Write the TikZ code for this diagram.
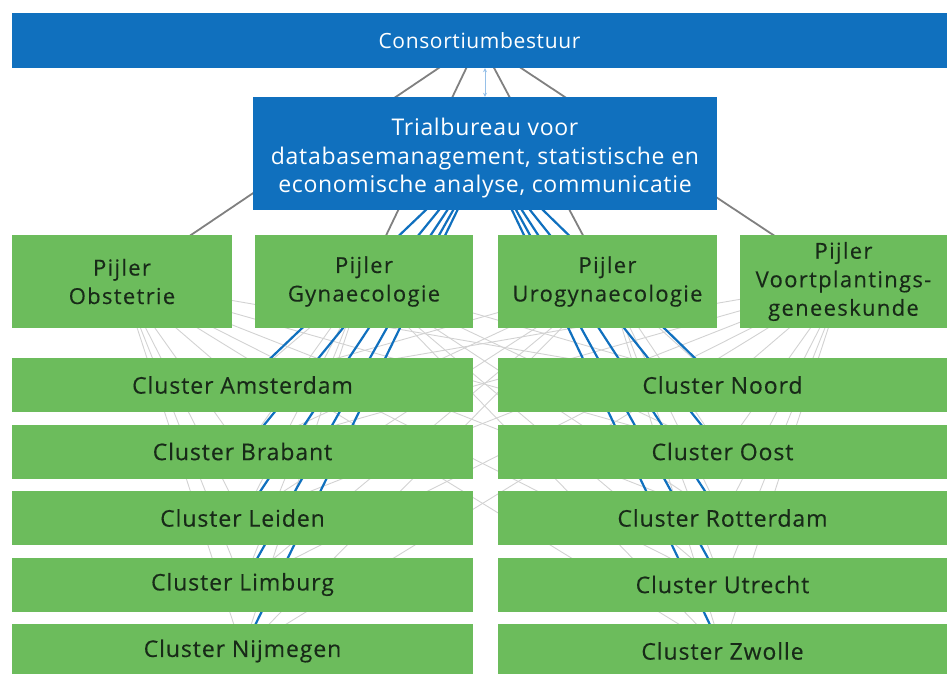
\documentclass[tikz,border=0pt]{standalone}
\usepackage{fontspec}
\setmainfont{Open Sans}
\usetikzlibrary{arrows.meta}
\definecolor{cblue}{RGB}{16,112,190}
\definecolor{cgreen}{RGB}{108,188,92}
\definecolor{ctext}{RGB}{24,42,24}
\definecolor{linkgray}{RGB}{128,128,128}
\definecolor{faintgray}{RGB}{210,210,210}
\definecolor{paleblue}{RGB}{150,192,232}
\pgfdeclarelayer{bg}
\pgfsetlayers{bg,main}
\newcommand{\boxfont}[3]{\fontsize{#1}{#2}\selectfont\addfontfeatures{LetterSpace=#3}}
\begin{document}
\begin{tikzpicture}[x=1pt,y=-1pt,
  bluebox/.style={fill=cblue, text=white, inner sep=0pt, align=center},
  pillar/.style={fill=cgreen, text=ctext, inner sep=0pt, align=center,
    minimum height=93pt, font=\boxfont{22}{28.5}{6}\addfontfeatures{FakeBold=0.3}},
  cluster/.style={fill=cgreen, text=ctext, inner sep=0pt, align=center,
    minimum height=54pt, font=\boxfont{23}{26}{4}\addfontfeatures{FakeBold=0.3}},
  leftcl/.style={cluster, minimum width=461pt},
  rightcl/.style={cluster, minimum width=449pt},
  govlink/.style={draw=linkgray, line width=1.8pt},
  datalink/.style={draw=cblue, line width=2.2pt},
  pillarlink/.style={draw=faintgray, line width=0.9pt},
  ]
\useasboundingbox (0,0) rectangle (947,673);

% governance and trial office
\node[bluebox, minimum width=935pt, minimum height=55pt,
  font=\boxfont{21}{24}{3}] (cons) at (479.5,40.5) {Consortiumbestuur};
\node[bluebox, minimum width=464pt, minimum height=113pt] (trial) at (485,153.5) {};
\node[text=white, inner sep=0pt, align=center, font=\boxfont{23}{28.5}{3}]
  (trialtext) at ([yshift=-5pt]trial.center)
  {Trialbureau voor\\databasemanagement, statistische en\\economische analyse, communicatie};

% pillars
\node[pillar, minimum width=220pt] (obs) at (122,281.5) {Pijler\\Obstetrie};
\node[pillar, minimum width=218pt] (gyn) at (364,281.5) {Pijler\\Gynaecologie};
\node[pillar, minimum width=219pt] (uro) at (607.5,281.5) {Pijler\\Urogynaecologie};
\node[pillar, minimum width=207pt] (voo) at (843.5,281.5) {Pijler\\Voortplantings-\\geneeskunde};

% clusters
\node[leftcl] (ams) at (242.5,385) {Cluster Amsterdam};
\node[leftcl] (bra) at (242.5,451.5) {Cluster Brabant};
\node[leftcl] (lei) at (242.5,518) {Cluster Leiden};
\node[leftcl] (lim) at (242.5,584.5) {Cluster Limburg};
\node[leftcl] (nij) at (242.5,651) {Cluster Nijmegen};
\node[rightcl] (noo) at (722.5,385) {Cluster Noord};
\node[rightcl] (oos) at (722.5,451.5) {Cluster Oost};
\node[rightcl] (rot) at (722.5,518) {Cluster Rotterdam};
\node[rightcl] (utr) at (722.5,584.5) {Cluster Utrecht};
\node[rightcl] (zwo) at (722.5,651) {Cluster Zwolle};

\begin{pgfonlayer}{bg}
  % every pillar reaches every cluster
  \foreach \p in {obs,gyn,uro,voo}
    \foreach \c in {ams,bra,lei,lim,nij,noo,oos,rot,utr,zwo}
      \draw[pillarlink] (\p.center) -- (\c.center);
  % trial office serves all clusters
  \foreach \c in {ams,bra,lei,lim,nij,noo,oos,rot,utr,zwo}
    \draw[datalink] (trial.center) -- (\c.center);
  % board oversees the pillars
  \foreach \p in {obs,gyn,uro,voo}
    \draw[govlink] (cons.center) -- (\p.center);
\end{pgfonlayer}

% board <-> trial office
\draw[paleblue, line width=0.8pt, {Stealth[length=4pt,width=4pt]}-{Stealth[length=4pt,width=4pt]}]
  (trial.north |- cons.south) -- (trial.north);
\end{tikzpicture}
\end{document}
